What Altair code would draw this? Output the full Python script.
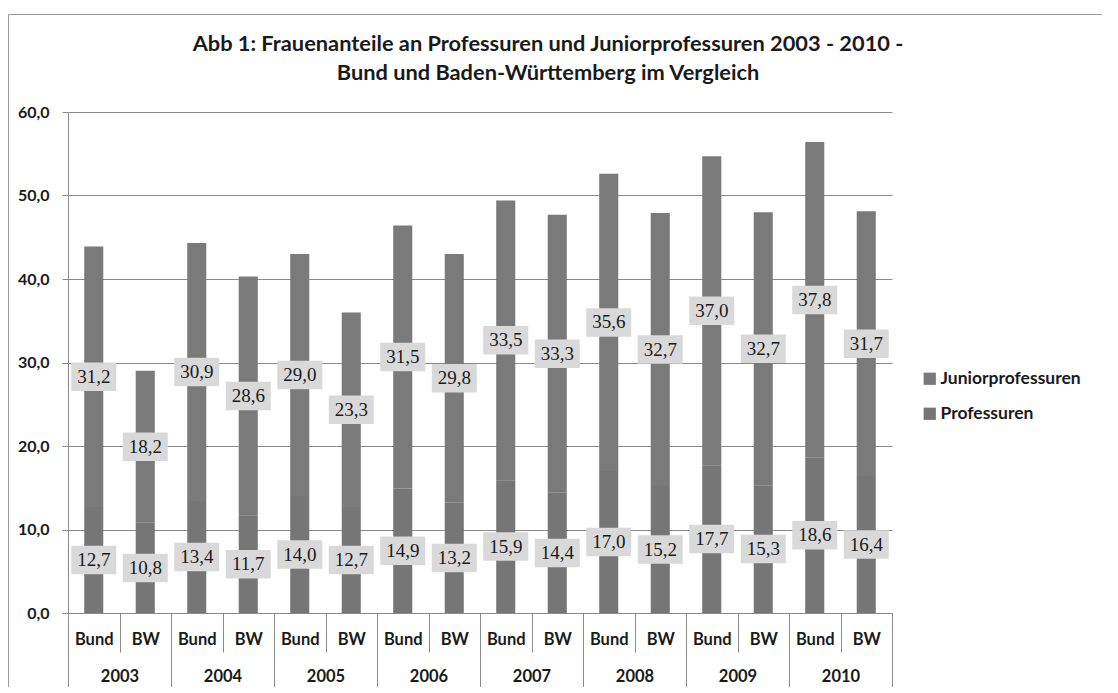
import altair as alt
import pandas as pd

years = ["2003", "2004", "2005", "2006", "2007", "2008", "2009", "2010"]
regions = ["Bund", "BW"]
bund_prof = [12.7, 13.4, 14.0, 14.9, 15.9, 17.0, 17.7, 18.6]
bund_junior = [31.2, 30.9, 29.0, 31.5, 33.5, 35.6, 37.0, 37.8]
bw_prof = [10.8, 11.7, 12.7, 13.2, 14.4, 15.2, 15.3, 16.4]
bw_junior = [18.2, 28.6, 23.3, 29.8, 33.3, 32.7, 32.7, 31.7]
series = ["Juniorprofessuren", "Professuren"]
y_ticks = [0, 10, 20, 30, 40, 50, 60]
title_lines = ["Abb 1: Frauenanteile an Professuren und Juniorprofessuren 2003 - 2010 -",
               "Bund und Baden-Württemberg im Vergleich"]


def de(v):
    return f"{v:.1f}".replace(".", ",")


rows = []
for i, yr in enumerate(years):
    for reg, prof, jun in (("Bund", bund_prof[i], bund_junior[i]),
                           ("BW", bw_prof[i], bw_junior[i])):
        key = f"{yr}|{reg}"
        rows.append(dict(key=key, year=yr, region=reg, series="Professuren",
                         value=prof, y0=0.0, y1=prof, mid=prof / 2, label=de(prof)))
        rows.append(dict(key=key, year=yr, region=reg, series="Juniorprofessuren",
                         value=jun, y0=prof, y1=prof + jun, mid=prof + jun / 2, label=de(jun)))
df = pd.DataFrame(rows)
keys = [f"{yr}|{r}" for yr in years for r in regions]

GRAY = "#8a8a8a"
FONT = "Lato"

xscale = alt.Scale(domain=keys, paddingInner=0, paddingOuter=0)
yscale = alt.Scale(domain=[0, 60], nice=False)

x_axis = alt.Axis(
    orient="bottom", labelExpr="split(datum.value, '|')[1]", labelAngle=0,
    tickBand="extent", tickSize=39, tickColor=GRAY, domainColor=GRAY,
    labelPadding=-21, labelFont=FONT, labelFontSize=16.5, labelFontWeight="bold",
    labelColor="#1a1a1a", grid=False,
)
y_axis = alt.Axis(
    values=y_ticks, labelExpr="replace(format(datum.value, '.1f'), '.', ',')",
    grid=True, gridColor=GRAY, domainColor=GRAY, tickColor=GRAY, tickSize=6,
    labelPadding=13, labelFont=FONT, labelFontSize=16, labelFontWeight="bold",
    labelColor="#1a1a1a",
)

bars = alt.Chart(df).mark_bar(width=alt.RelativeBandSize(0.37)).encode(
    x=alt.X("key:N", scale=xscale, axis=x_axis, title=None),
    y=alt.Y("y1:Q", scale=yscale, axis=y_axis, title=None),
    y2="y0:Q",
    color=alt.Color(
        "series:N",
        scale=alt.Scale(domain=series, range=["#7a7a7a", "#767676"]),
        legend=alt.Legend(
            title=None, orient="none", legendX=853, legendY=258,
            symbolType="square", symbolSize=150, symbolStrokeWidth=0,
            labelFont=FONT, labelFontSize=17.5, labelFontWeight="bold",
            labelColor="#1a1a1a", labelOffset=2, rowPadding=16,
        ),
    ),
)

boxes = alt.Chart(df).mark_point(
    shape="M-1.5,-0.95H1.5V0.95H-1.5Z", filled=True, size=900,
    color="#d9d9d9", opacity=1, strokeWidth=0,
).encode(
    x=alt.X("key:N", scale=xscale, title=None),
    y=alt.Y("mid:Q", scale=yscale, title=None),
)

texts = alt.Chart(df).mark_text(
    font="Liberation Serif", fontSize=19, color="#1a1a1a",
).encode(
    x=alt.X("key:N", scale=xscale, title=None),
    y=alt.Y("mid:Q", scale=yscale, title=None),
    text="label:N",
)

year_layer = alt.Chart(pd.DataFrame({"year": years})).mark_text(opacity=0).encode(
    x=alt.X("year:N", scale=alt.Scale(domain=years, paddingInner=0, paddingOuter=0),
            axis=alt.Axis(orient="bottom", domain=False, tickBand="extent",
                          tickSize=77, tickColor=GRAY, labelPadding=-22,
                          labelAngle=0, labelFont=FONT, labelFontSize=16.5,
                          labelFontWeight="bold", labelColor="#1a1a1a", grid=False),
            title=None),
    text="year:N",
)

frame = alt.Chart(alt.Data(values=[{"f": 1}])).mark_rect(
    filled=False, color="#9a9a9a", strokeWidth=1,
).encode(
    x=alt.value(-59.5), x2=alt.value(1200), y=alt.value(-97.5), y2=alt.value(900),
)

main = alt.layer(bars, boxes, texts)

chart = alt.layer(frame, main, year_layer).resolve_scale(x="independent").resolve_axis(
    x="independent"
).properties(
    width=824, height=501,
    padding={"left": 60, "top": 104, "right": 210, "bottom": 74},
    autosize=alt.AutoSizeParams(type="none"),
    title=alt.TitleParams(
        text=title_lines, font=FONT, fontSize=21.8, fontWeight="bold",
        color="#1a1a1a", anchor="middle", dx=68, offset=-71, lineHeight=29,
    ),
).configure_view(stroke=None)

chart.save("out.html", embed_options={"renderer": "svg", "actions": False})
